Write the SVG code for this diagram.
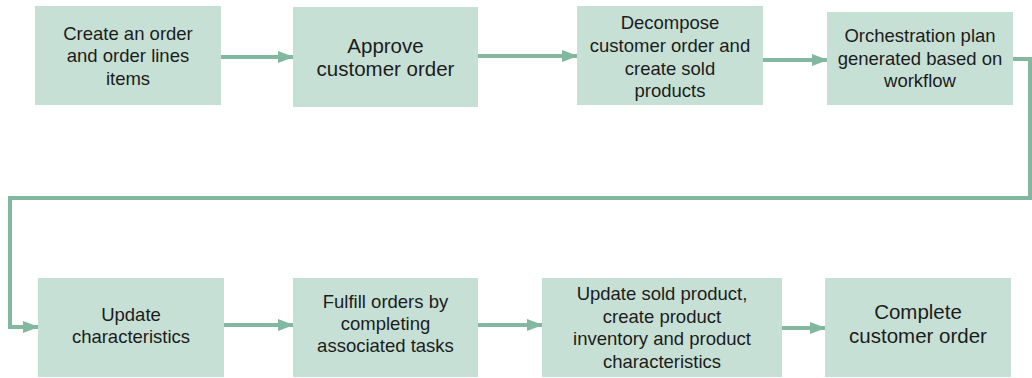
<svg xmlns="http://www.w3.org/2000/svg" width="1032" height="378" viewBox="0 0 1032 378">
<defs>
<style>
.box{fill:#c7e0d5}
.t{font-family:"Liberation Sans",Arial,sans-serif;font-size:18.5px;fill:#1c1c1c;text-anchor:middle}
.tl{font-size:20.5px}
.c{fill:none;stroke:#82b89f;stroke-width:4}
</style>
<marker id="ah" markerWidth="16" markerHeight="12" refX="15" refY="6" orient="auto" markerUnits="userSpaceOnUse">
<path d="M0,0 L16,6 L0,12 Z" fill="#82b89f"/>
</marker>
</defs>
<rect width="1032" height="378" fill="#ffffff"/>
<g id="connectors">
<path class="c" d="M221,57 L293,57" marker-end="url(#ah)"/>
<path class="c" d="M478,56 L577,56" marker-end="url(#ah)"/>
<path class="c" d="M763,60 L827,60" marker-end="url(#ah)"/>
<path class="c" d="M1013,59 L1030,59 L1030,198 L10,198 L10,327 L38,327" marker-end="url(#ah)"/>
<path class="c" d="M224,325 L293,325" marker-end="url(#ah)"/>
<path class="c" d="M478,325 L542,325" marker-end="url(#ah)"/>
<path class="c" d="M782,328 L825,328" marker-end="url(#ah)"/>
</g>
<g id="n1"><rect class="box" x="35" y="6" width="186" height="99"/>
<text class="t" x="128" y="39.5">Create an order</text><text class="t" x="128" y="62">and order lines</text><text class="t" x="128" y="84.5">items</text></g>
<g id="n2"><rect class="box" x="293" y="7" width="185" height="100"/>
<text class="t tl" x="385.5" y="53">Approve</text><text class="t tl" x="385.5" y="76">customer order</text></g>
<g id="n3"><rect class="box" x="577" y="6" width="186" height="99"/>
<text class="t" x="670" y="29">Decompose</text><text class="t" x="670" y="52">customer order and</text><text class="t" x="670" y="74.5">create sold</text><text class="t" x="670" y="97">products</text></g>
<g id="n4"><rect class="box" x="827" y="12" width="186" height="93"/>
<text class="t" x="920" y="42">Orchestration plan</text><text class="t" x="920" y="64.5">generated based on</text><text class="t" x="920" y="87">workflow</text></g>
<g id="n5"><rect class="box" x="38" y="278" width="186" height="99"/>
<text class="t" x="131" y="321">Update</text><text class="t" x="131" y="343">characteristics</text></g>
<g id="n6"><rect class="box" x="293" y="278" width="185" height="99"/>
<text class="t" x="385.5" y="308">Fulfill orders by</text><text class="t" x="385.5" y="330">completing</text><text class="t" x="385.5" y="352">associated tasks</text></g>
<g id="n7"><rect class="box" x="542" y="278" width="240" height="99"/>
<text class="t" x="662" y="300">Update sold product,</text><text class="t" x="662" y="322.5">create product</text><text class="t" x="662" y="345">inventory and product</text><text class="t" x="662" y="367.5">characteristics</text></g>
<g id="n8"><rect class="box" x="825" y="278" width="186" height="99"/>
<text class="t tl" x="918" y="319">Complete</text><text class="t tl" x="918" y="343">customer order</text></g>
</svg>
